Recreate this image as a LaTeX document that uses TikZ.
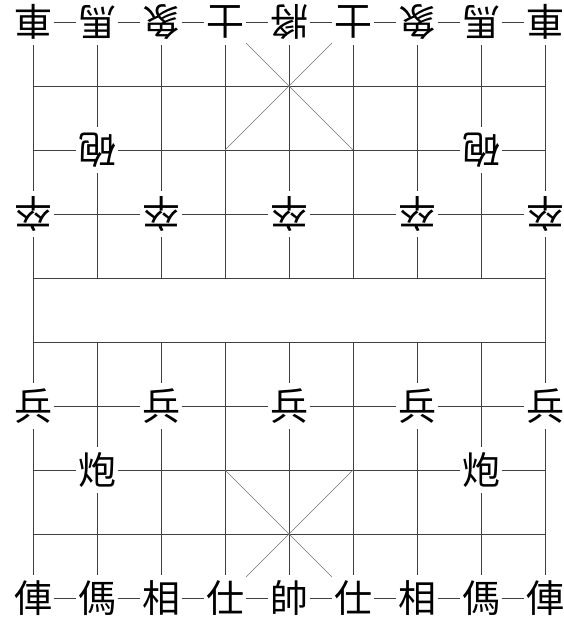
\documentclass[tikz,border=0pt]{standalone}
\usepackage{fontspec}
\newfontfamily\cjk{Noto Sans CJK TC}
\begin{document}
\begin{tikzpicture}[x=1pt,y=-1pt,
  grid/.style={black!75,line width=0.8pt},
  diag/.style={black!55,line width=0.5pt},
  piece/.style={fill=white,inner sep=0pt,minimum width=42pt,minimum height=46pt,
    font=\cjk\fontsize{38}{38}\selectfont},
  upside/.style={piece,rotate=180}]
\useasboundingbox (0,0) rectangle (563,624);
% horizontal lines
\foreach \r in {0,...,9}
  \draw[grid] (33,22+64*\r) -- (545,22+64*\r);
% outer verticals
\draw[grid] (33,22) -- (33,598);
\draw[grid] (545,22) -- (545,598);
% inner verticals broken at the river
\foreach \c in {1,...,7}{
  \draw[grid] (33+64*\c,22) -- (33+64*\c,278);
  \draw[grid] (33+64*\c,342) -- (33+64*\c,598);
}
% palaces
\draw[diag] (225,22) -- (353,150) (353,22) -- (225,150);
\draw[diag] (225,470) -- (353,598) (353,470) -- (225,598);
% black pieces (upside down)
\foreach \t [count=\i from 0] in {車,馬,象,士,將,士,象,馬,車}
  \node[upside] (b\i) at (33+64*\i,22) {\t};
\node[upside] (bp1) at (97,150) {砲};
\node[upside] (bp2) at (481,150) {砲};
\foreach \i in {0,2,4,6,8}
  \node[upside] (bz\i) at (33+64*\i,214) {卒};
% red pieces
\foreach \i in {0,2,4,6,8}
  \node[piece] (rb\i) at (33+64*\i,406) {兵};
\node[piece] (rp1) at (97,470) {炮};
\node[piece] (rp2) at (481,470) {炮};
\foreach \t [count=\i from 0] in {俥,傌,相,仕,帥,仕,相,傌,俥}
  \node[piece] (r\i) at (33+64*\i,598) {\t};
\end{tikzpicture}
\end{document}
